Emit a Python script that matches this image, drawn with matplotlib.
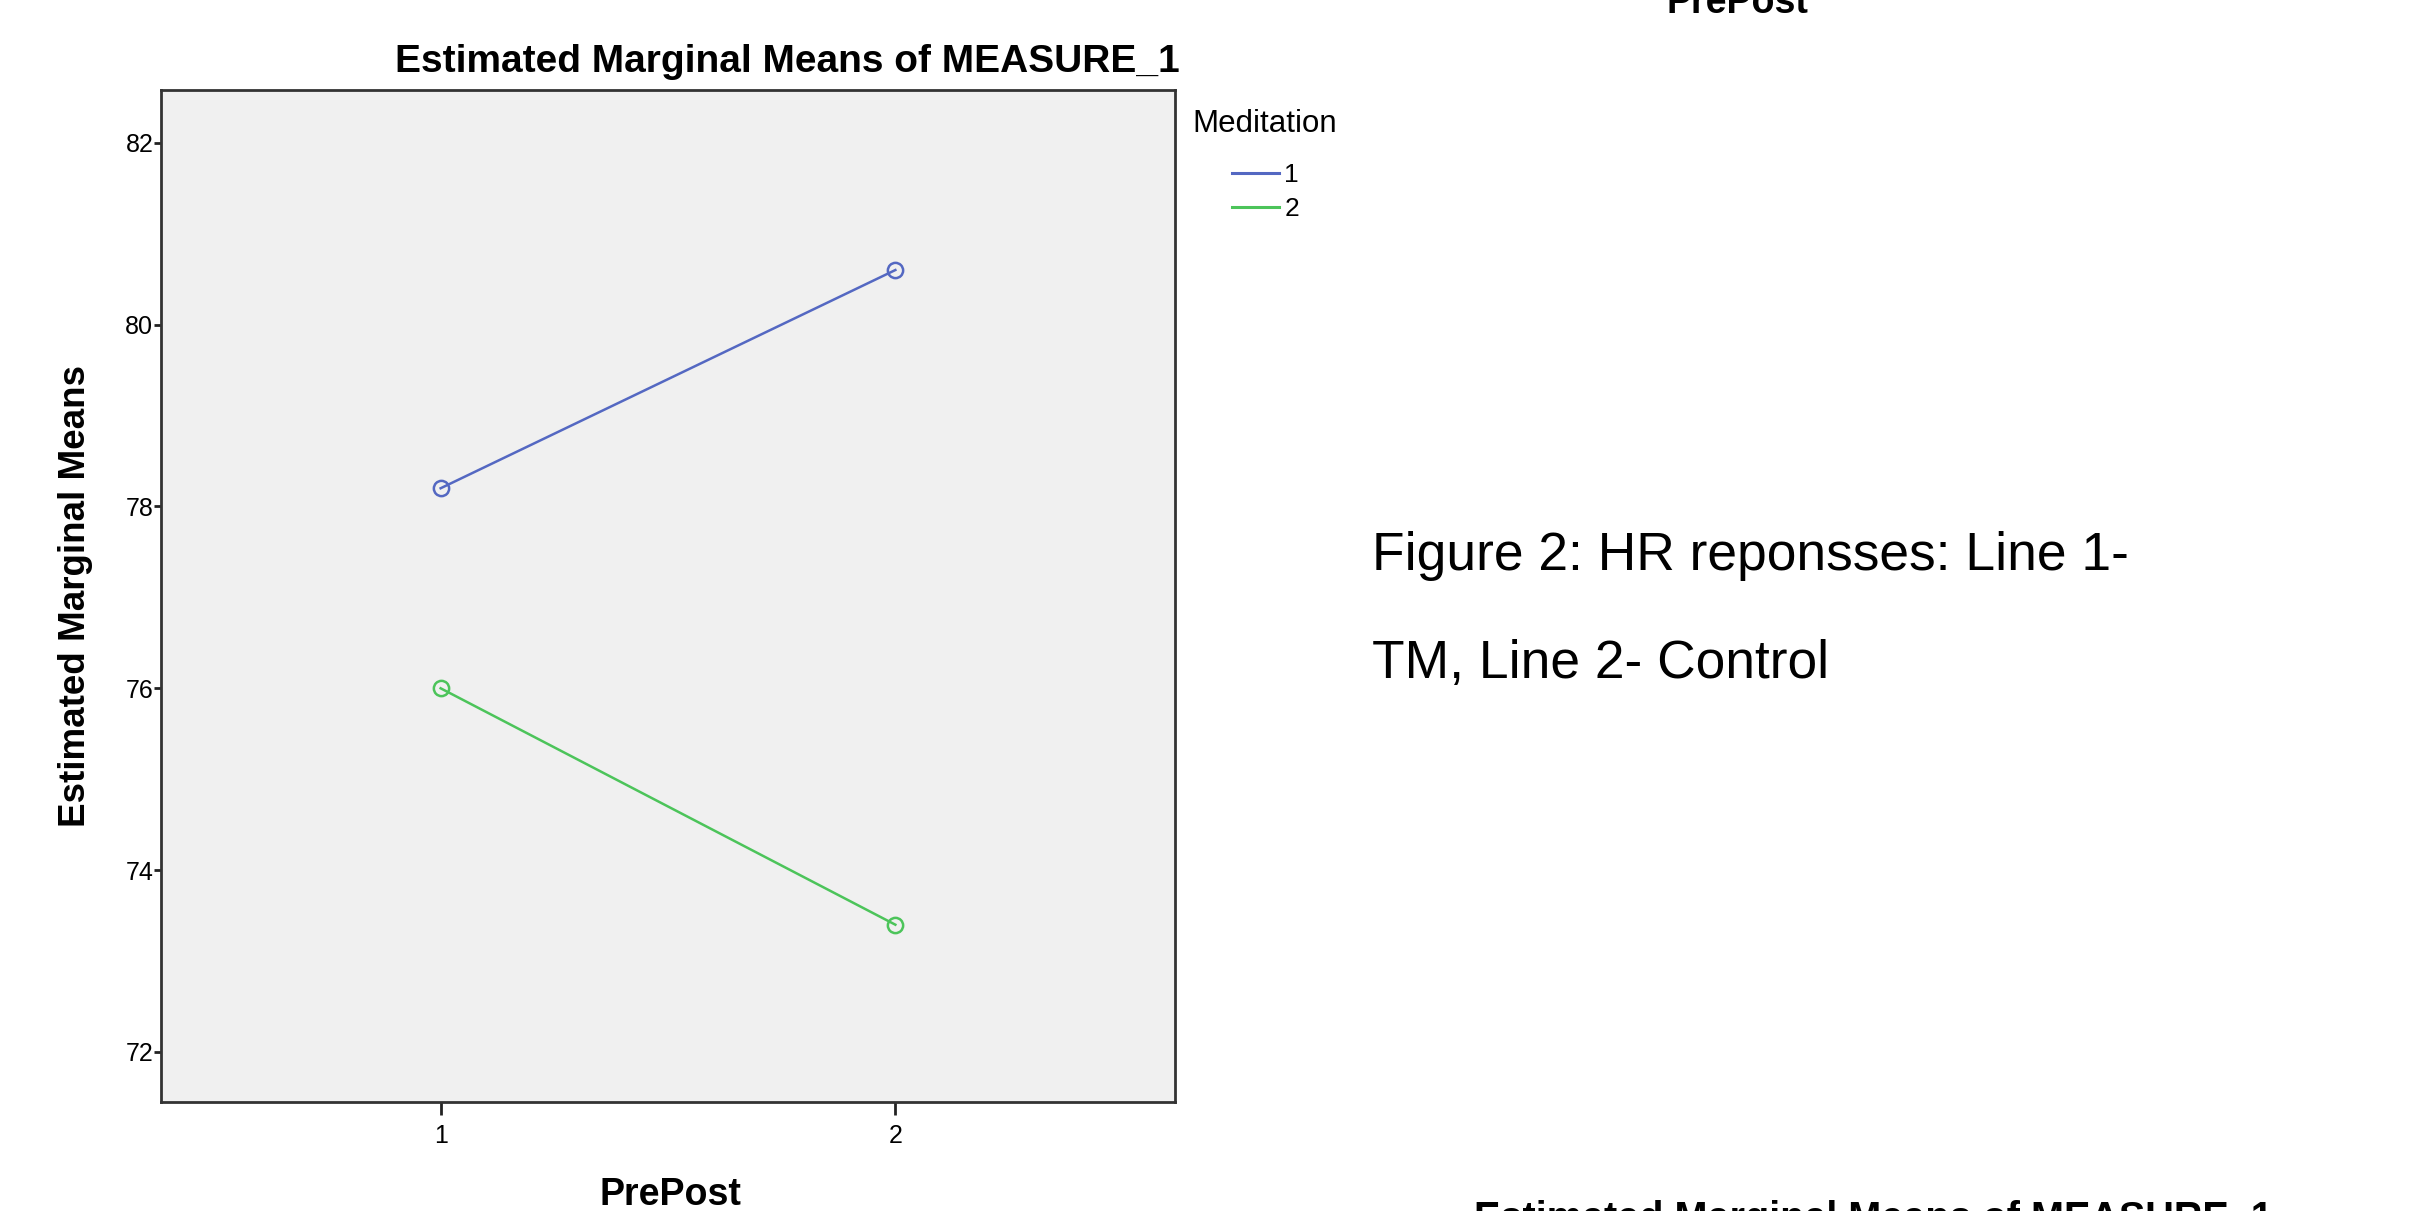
import matplotlib
matplotlib.use("Agg")
import matplotlib.pyplot as plt
from matplotlib.lines import Line2D

plt.rcParams["font.family"] = ["Liberation Sans", "DejaVu Sans"]

# Data
prepost = [1, 2]
groups = ["1", "2"]
means_tm = [78.2, 80.6]
means_control = [76.0, 73.4]
colors = ["#5468c2", "#4cc45a"]
yticks = [72, 74, 76, 78, 80, 82]

W, H = 2427, 1211
fig = plt.figure(figsize=(W / 100, H / 100), dpi=100)
ax = fig.add_axes([161 / W, 1 - 1102 / H, (1175 - 161) / W, (1102 - 90) / H])
ax.set_facecolor("#f0f0f0")

for vals, c in zip([means_tm, means_control], colors):
    ax.plot(prepost, vals, color=c, lw=1.8, marker="o", ms=11,
            mfc="none", mec=c, mew=1.8)

ax.set_xlim(0.385, 2.615)
ax.set_ylim(71.45, 82.58)
ax.set_xticks(prepost)
ax.set_yticks(yticks)
ax.tick_params(axis="both", direction="out", width=2, labelsize=18,
               color="#222222")
ax.tick_params(axis="y", length=5, pad=0.5)
ax.tick_params(axis="x", length=9, pad=7)
for s in ax.spines.values():
    s.set_linewidth(2)
    s.set_color("#333333")

ax.set_xlabel("PrePost", fontsize=27, fontweight="bold")
ax.xaxis.set_label_coords(0.502, -0.0919)
ax.xaxis.label.set_va("center")
ax.set_ylabel("Estimated Marginal Means", fontsize=26.5, fontweight="bold")
ax.yaxis.set_label_coords(-0.084, 0.5)
ax.yaxis.label.set_va("center")

fig.text(787 / W, 1 - 62 / H, "Estimated Marginal Means of MEASURE_1",
         fontsize=28, fontweight="bold", ha="center", va="center")

# legend
fig.text(1192 / W, 1 - 124 / H, "Meditation", fontsize=22.5, ha="left", va="center")
handles = [Line2D([], [], color=c, lw=2.2) for c in colors]
fig.legend(handles, groups, loc="upper left",
           bbox_to_anchor=(1232 / W, 1 - 163 / H), frameon=False,
           fontsize=19, borderpad=0, borderaxespad=0, handlelength=1.78,
           handletextpad=0.2, labelspacing=0.37)

# caption text beside the chart
fig.text(1372 / W, 1 - 556 / H, "Figure 2: HR reponsses: Line 1-",
         fontsize=38.4, ha="left", va="center")
fig.text(1372 / W, 1 - 664 / H, "TM, Line 2- Control",
         fontsize=38.4, ha="left", va="center")

# pieces of neighbouring charts cut off at the page edges
fig.text(1737 / W, 1 - 13 / H, "PrePost", fontsize=27, fontweight="bold",
         ha="center", va="baseline")
fig.text(1873 / W, 1 - 1200 / H, "Estimated Marginal Means of MEASURE_1",
         fontsize=28.5, fontweight="bold", ha="center", va="top")

fig.savefig("out.png", dpi=100)
